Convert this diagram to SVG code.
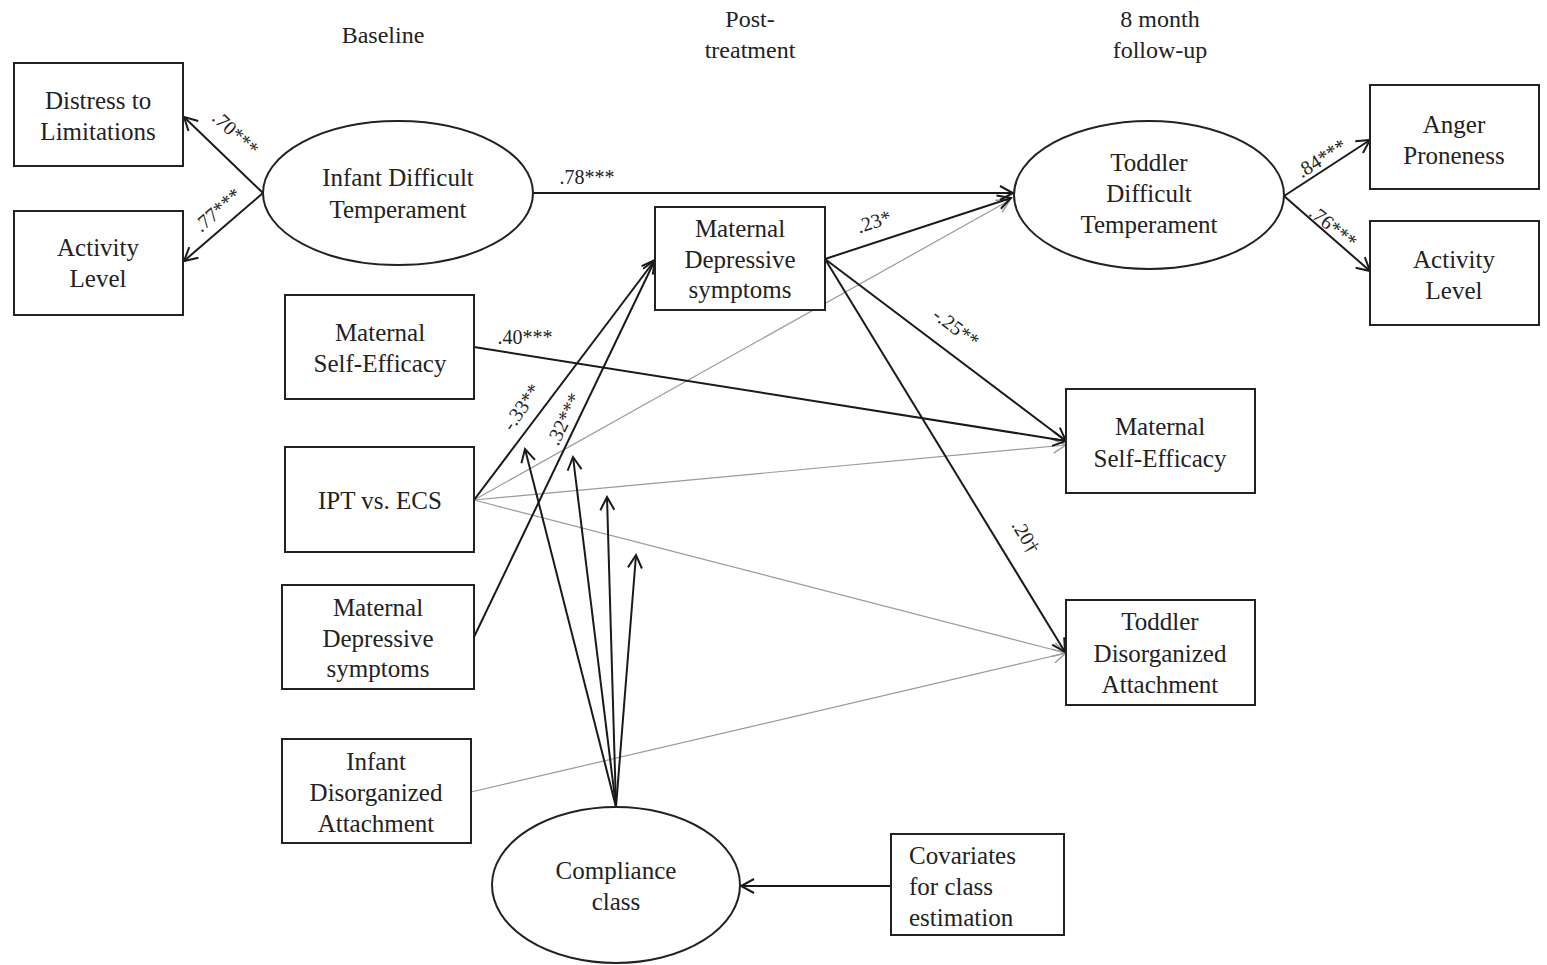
<svg xmlns="http://www.w3.org/2000/svg" width="1547" height="965" viewBox="0 0 1547 965">
<defs>
<style>
.t{font-family:"Liberation Serif","Times New Roman",serif;font-size:25px;fill:#222;text-anchor:middle}
.tl{font-family:"Liberation Serif","Times New Roman",serif;font-size:25px;fill:#222;text-anchor:start}
.h{font-family:"Liberation Serif","Times New Roman",serif;font-size:24px;fill:#222;text-anchor:middle}
.lb{font-family:"Liberation Serif","Times New Roman",serif;font-size:20px;fill:#222;text-anchor:middle}
.box{fill:#fff;stroke:#222;stroke-width:2}
.el{fill:#fff;stroke:#222;stroke-width:2}
.k{stroke:#1a1a1a;stroke-width:2;fill:none}
.g{stroke:#9a9a9a;stroke-width:1.2;fill:none}
</style>
<marker id="ak" viewBox="-15 -9 17 18" refX="0" refY="0" markerWidth="17" markerHeight="18" orient="auto" markerUnits="userSpaceOnUse">
<path d="M-13,-7 L0,0 L-13,7" fill="none" stroke="#1a1a1a" stroke-width="2"/>
</marker>
<marker id="ag" viewBox="-15 -9 17 18" refX="0" refY="0" markerWidth="17" markerHeight="18" orient="auto" markerUnits="userSpaceOnUse">
<path d="M-13,-7 L0,0 L-13,7" fill="none" stroke="#9a9a9a" stroke-width="1.4"/>
</marker>
</defs>
<rect width="1547" height="965" fill="#fff"/>

<g id="headings">
<text class="h" x="383" y="43">Baseline</text>
<text class="h" x="750" y="27">Post-</text>
<text class="h" x="750" y="58">treatment</text>
<text class="h" x="1160" y="27">8 month</text>
<text class="h" x="1160" y="58">follow-up</text>
</g>

<g id="connectors">
<line class="g" x1="474" y1="500" x2="1010" y2="200" marker-end="url(#ag)"/>
<line class="g" x1="474" y1="500" x2="1066" y2="445" marker-end="url(#ag)"/>
<line class="g" x1="474" y1="500" x2="1066" y2="653" marker-end="url(#ag)"/>
<line class="g" x1="471" y1="792" x2="1066" y2="653" marker-end="url(#ag)"/>
<line class="k" x1="263" y1="193" x2="184" y2="117" marker-end="url(#ak)"/>
<line class="k" x1="263" y1="193" x2="184" y2="261" marker-end="url(#ak)"/>
<line class="k" x1="533" y1="193" x2="1013" y2="193" marker-end="url(#ak)"/>
<line class="k" x1="825" y1="259" x2="1011" y2="198" marker-end="url(#ak)"/>
<line class="k" x1="825" y1="259" x2="1066" y2="441" marker-end="url(#ak)"/>
<line class="k" x1="825" y1="259" x2="1065" y2="652" marker-end="url(#ak)"/>
<line class="k" x1="474" y1="347" x2="1066" y2="441" marker-end="url(#ak)"/>
<line class="k" x1="474" y1="500" x2="655" y2="260" marker-end="url(#ak)"/>
<line class="k" x1="474" y1="637" x2="655" y2="260" marker-end="url(#ak)"/>
<line class="k" x1="616" y1="807" x2="525" y2="449" marker-end="url(#ak)"/>
<line class="k" x1="616" y1="807" x2="573" y2="457" marker-end="url(#ak)"/>
<line class="k" x1="616" y1="807" x2="607" y2="497" marker-end="url(#ak)"/>
<line class="k" x1="616" y1="807" x2="636" y2="555" marker-end="url(#ak)"/>
<line class="k" x1="1284" y1="196" x2="1370" y2="140" marker-end="url(#ak)"/>
<line class="k" x1="1284" y1="196" x2="1370" y2="271" marker-end="url(#ak)"/>
<line class="k" x1="891" y1="886" x2="741" y2="886" marker-end="url(#ak)"/>
</g>

<g id="labels">
<text class="lb" transform="translate(231,138) rotate(43)">.70***</text>
<text class="lb" transform="translate(222,215) rotate(-41)">.77***</text>
<text class="lb" x="587" y="184">.78***</text>
<text class="lb" transform="translate(876,228) rotate(-18)">.23*</text>
<text class="lb" transform="translate(952,333) rotate(37)">-.25**</text>
<text class="lb" transform="translate(1020,540) rotate(59)">.20†</text>
<text class="lb" x="525" y="344">.40***</text>
<text class="lb" transform="translate(527,411) rotate(-55)">-.33**</text>
<text class="lb" transform="translate(570,422) rotate(-64)">.32***</text>
<text class="lb" transform="translate(1325,164) rotate(-32)">.84***</text>
<text class="lb" transform="translate(1329,232) rotate(39)">.76***</text>
</g>

<g id="n-distress">
<rect class="box" x="14" y="63" width="169" height="103"/>
<text class="t" x="98" y="109">Distress to</text>
<text class="t" x="98" y="140">Limitations</text>
</g>
<g id="n-activity-infant">
<rect class="box" x="14" y="211" width="169" height="104"/>
<text class="t" x="98" y="256">Activity</text>
<text class="t" x="98" y="287">Level</text>
</g>
<g id="n-infant-temp">
<ellipse class="el" cx="398" cy="193" rx="135" ry="72"/>
<text class="t" x="398" y="186">Infant Difficult</text>
<text class="t" x="398" y="218">Temperament</text>
</g>
<g id="n-matdep-post">
<rect class="box" x="655" y="207" width="170" height="103"/>
<text class="t" x="740" y="237">Maternal</text>
<text class="t" x="740" y="268">Depressive</text>
<text class="t" x="740" y="298">symptoms</text>
</g>
<g id="n-matse-base">
<rect class="box" x="285" y="295" width="189" height="104"/>
<text class="t" x="380" y="341">Maternal</text>
<text class="t" x="380" y="372">Self-Efficacy</text>
</g>
<g id="n-ipt">
<rect class="box" x="285" y="447" width="189" height="105"/>
<text class="t" x="380" y="509">IPT vs. ECS</text>
</g>
<g id="n-matdep-base">
<rect class="box" x="282" y="585" width="192" height="104"/>
<text class="t" x="378" y="616">Maternal</text>
<text class="t" x="378" y="647">Depressive</text>
<text class="t" x="378" y="677">symptoms</text>
</g>
<g id="n-infant-dis">
<rect class="box" x="282" y="739" width="189" height="104"/>
<text class="t" x="376" y="770">Infant</text>
<text class="t" x="376" y="801">Disorganized</text>
<text class="t" x="376" y="832">Attachment</text>
</g>
<g id="n-compliance">
<ellipse class="el" cx="616" cy="885" rx="124" ry="78"/>
<text class="t" x="616" y="879">Compliance</text>
<text class="t" x="616" y="910">class</text>
</g>
<g id="n-covariates">
<rect class="box" x="891" y="834" width="173" height="101"/>
<text class="tl" x="909" y="864">Covariates</text>
<text class="tl" x="909" y="895">for class</text>
<text class="tl" x="909" y="926">estimation</text>
</g>
<g id="n-toddler-temp">
<ellipse class="el" cx="1149" cy="195" rx="135" ry="74"/>
<text class="t" x="1149" y="171">Toddler</text>
<text class="t" x="1149" y="202">Difficult</text>
<text class="t" x="1149" y="233">Temperament</text>
</g>
<g id="n-anger">
<rect class="box" x="1370" y="85" width="169" height="104"/>
<text class="t" x="1454" y="133">Anger</text>
<text class="t" x="1454" y="164">Proneness</text>
</g>
<g id="n-activity-toddler">
<rect class="box" x="1370" y="221" width="169" height="104"/>
<text class="t" x="1454" y="268">Activity</text>
<text class="t" x="1454" y="299">Level</text>
</g>
<g id="n-matse-fu">
<rect class="box" x="1066" y="389" width="189" height="104"/>
<text class="t" x="1160" y="435">Maternal</text>
<text class="t" x="1160" y="467">Self-Efficacy</text>
</g>
<g id="n-toddler-dis">
<rect class="box" x="1066" y="600" width="189" height="105"/>
<text class="t" x="1160" y="630">Toddler</text>
<text class="t" x="1160" y="662">Disorganized</text>
<text class="t" x="1160" y="693">Attachment</text>
</g>
</svg>
